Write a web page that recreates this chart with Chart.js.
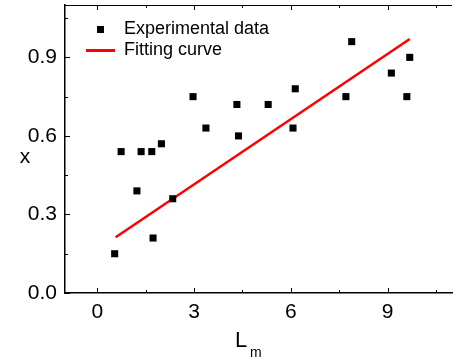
<!DOCTYPE html>
<html>
<head>
<meta charset="utf-8">
<script src="https://cdn.jsdelivr.net/npm/chart.js@4/dist/chart.umd.min.js"></script>
<style>
  html, body { margin: 0; padding: 0; background: #fff; overflow: hidden; }
  #wrap { width: 457px; height: 361px; }
</style>
</head>
<body>
<div id="wrap"><canvas id="chart"></canvas></div>
<script>
// measured points (L_m, x)
const expX = [0.54, 0.74, 1.23, 1.36, 1.69, 1.73, 1.99, 2.34, 2.97, 3.37,
              4.33, 4.38, 5.30, 6.07, 6.14, 7.71, 7.89, 9.12, 9.60, 9.69]
const expY = [0.15, 0.54, 0.39, 0.54, 0.54, 0.21, 0.57, 0.36, 0.75, 0.63,
              0.72, 0.60, 0.72, 0.63, 0.78, 0.75, 0.96, 0.84, 0.75, 0.90]

// linear fit end points
const fitX = [0.57, 9.69]
const fitY = [0.213, 0.970]

const xTicks = [0, 3, 6, 9]
const xMinor = [1.5, 4.5, 7.5, 10.5]
const yTicks = [0, 0.3, 0.6, 0.9]
const yMinor = [0.15, 0.45, 0.75, 1.05]

const FONT = 'Arial, "Liberation Sans", sans-serif'

// little canvases used as legend symbols
function makeSymbol(w, h, color) {
  const c = document.createElement('canvas')
  c.width = w
  c.height = h
  const g = c.getContext('2d')
  g.fillStyle = color
  g.fillRect(0, 0, w, h)
  return c
}
const squareSym = makeSymbol(7, 7, '#000')
const lineSym = makeSymbol(29, 3, '#ff0000')

// inward ticks, top frame and axis titles
const innerTicks = {
  id: 'innerTicks',
  afterLayout(chart) {
    // put legend in upper left corner of the plot
    const a = chart.chartArea
    chart.legend.left = a.left + 18
    chart.legend.top = a.top + 12
  },
  afterDraw(chart) {
    const { ctx, chartArea: a, scales: { x, y } } = chart
    ctx.save()
    ctx.strokeStyle = '#000'
    ctx.lineWidth = 1
    ctx.beginPath()
    const major = 5, minor = 3
    xTicks.forEach(v => {
      const px = Math.round(x.getPixelForValue(v)) + 0.5
      ctx.moveTo(px, a.bottom); ctx.lineTo(px, a.bottom - major)
      ctx.moveTo(px, a.top); ctx.lineTo(px, a.top + major)
    })
    xMinor.forEach(v => {
      const px = Math.round(x.getPixelForValue(v)) + 0.5
      ctx.moveTo(px, a.bottom); ctx.lineTo(px, a.bottom - minor)
      ctx.moveTo(px, a.top); ctx.lineTo(px, a.top + minor)
    })
    yTicks.forEach(v => {
      const py = Math.round(y.getPixelForValue(v)) + 0.5
      ctx.moveTo(a.left, py); ctx.lineTo(a.left + major, py)
    })
    yMinor.forEach(v => {
      const py = Math.round(y.getPixelForValue(v)) + 0.5
      ctx.moveTo(a.left, py); ctx.lineTo(a.left + minor, py)
    })
    ctx.stroke()
    // top frame line
    ctx.beginPath()
    ctx.moveTo(a.left, a.top + 0.5)
    ctx.lineTo(a.right, a.top + 0.5)
    ctx.stroke()

    // axis titles
    ctx.fillStyle = '#000'
    ctx.textBaseline = 'alphabetic'
    ctx.textAlign = 'left'
    ctx.font = '22px ' + FONT
    ctx.fillText('L', 235, 347)
    ctx.font = '14px ' + FONT
    ctx.fillText('m', 250, 357)
    ctx.font = '21px ' + FONT
    ctx.textAlign = 'center'
    ctx.fillText('x', 25, 163)
    ctx.restore()
  }
}

new Chart(document.getElementById('chart'), {
  type: 'scatter',
  data: {
    datasets: [{
      label: 'Experimental data',
      data: expX.map((v, i) => ({ x: v, y: expY[i] })),
      pointStyle: 'rect',
      pointRadius: 5,
      pointHoverRadius: 5,
      backgroundColor: '#000',
      borderColor: '#000',
      borderWidth: 0
    }, {
      label: 'Fitting curve',
      data: fitX.map((v, i) => ({ x: v, y: fitY[i] })),
      showLine: true,
      pointRadius: 0,
      borderColor: '#ff0000',
      backgroundColor: '#ff0000',
      borderWidth: 2.5
    }]
  },
  options: {
    responsive: true,
    maintainAspectRatio: false,
    animation: false,
    layout: { padding: { top: 5, right: 1, left: 0, bottom: 0 } },
    scales: {
      x: {
        type: 'linear',
        min: -1,
        max: 11,
        afterBuildTicks: s => { s.ticks = xTicks.map(v => ({ value: v })) },
        afterFit: s => { s.height = 68; s.paddingLeft = 0; s.paddingRight = 0 },
        grid: { display: false, drawTicks: false },
        border: { display: true, color: '#000', width: 1.5 },
        ticks: {
          color: '#000',
          padding: 7,
          font: { size: 21, family: FONT },
          maxRotation: 0
        }
      },
      y: {
        min: 0,
        max: 1.1,
        afterBuildTicks: s => { s.ticks = yTicks.map(v => ({ value: v })) },
        afterFit: s => { s.width = 65; s.paddingTop = 0; s.paddingBottom = 0 },
        grid: { display: false, drawTicks: false },
        border: { display: true, color: '#000', width: 1.5 },
        ticks: {
          color: '#000',
          padding: 8,
          font: { size: 21, family: FONT },
          callback: v => v.toFixed(1)
        }
      }
    },
    plugins: {
      tooltip: { enabled: false },
      legend: {
        position: 'chartArea',
        align: 'start',
        labels: {
          usePointStyle: true,
          pointStyleWidth: 29,
          color: '#000',
          padding: 3,
          font: { size: 18, family: FONT },
          generateLabels: () => [
            { text: 'Experimental data', pointStyle: squareSym, fillStyle: '#000', strokeStyle: '#000', lineWidth: 0, datasetIndex: 0 },
            { text: 'Fitting curve', pointStyle: lineSym, fillStyle: '#f00', strokeStyle: '#f00', lineWidth: 0, datasetIndex: 1 }
          ]
        }
      }
    }
  },
  plugins: [innerTicks]
})
</script>
</body>
</html>
